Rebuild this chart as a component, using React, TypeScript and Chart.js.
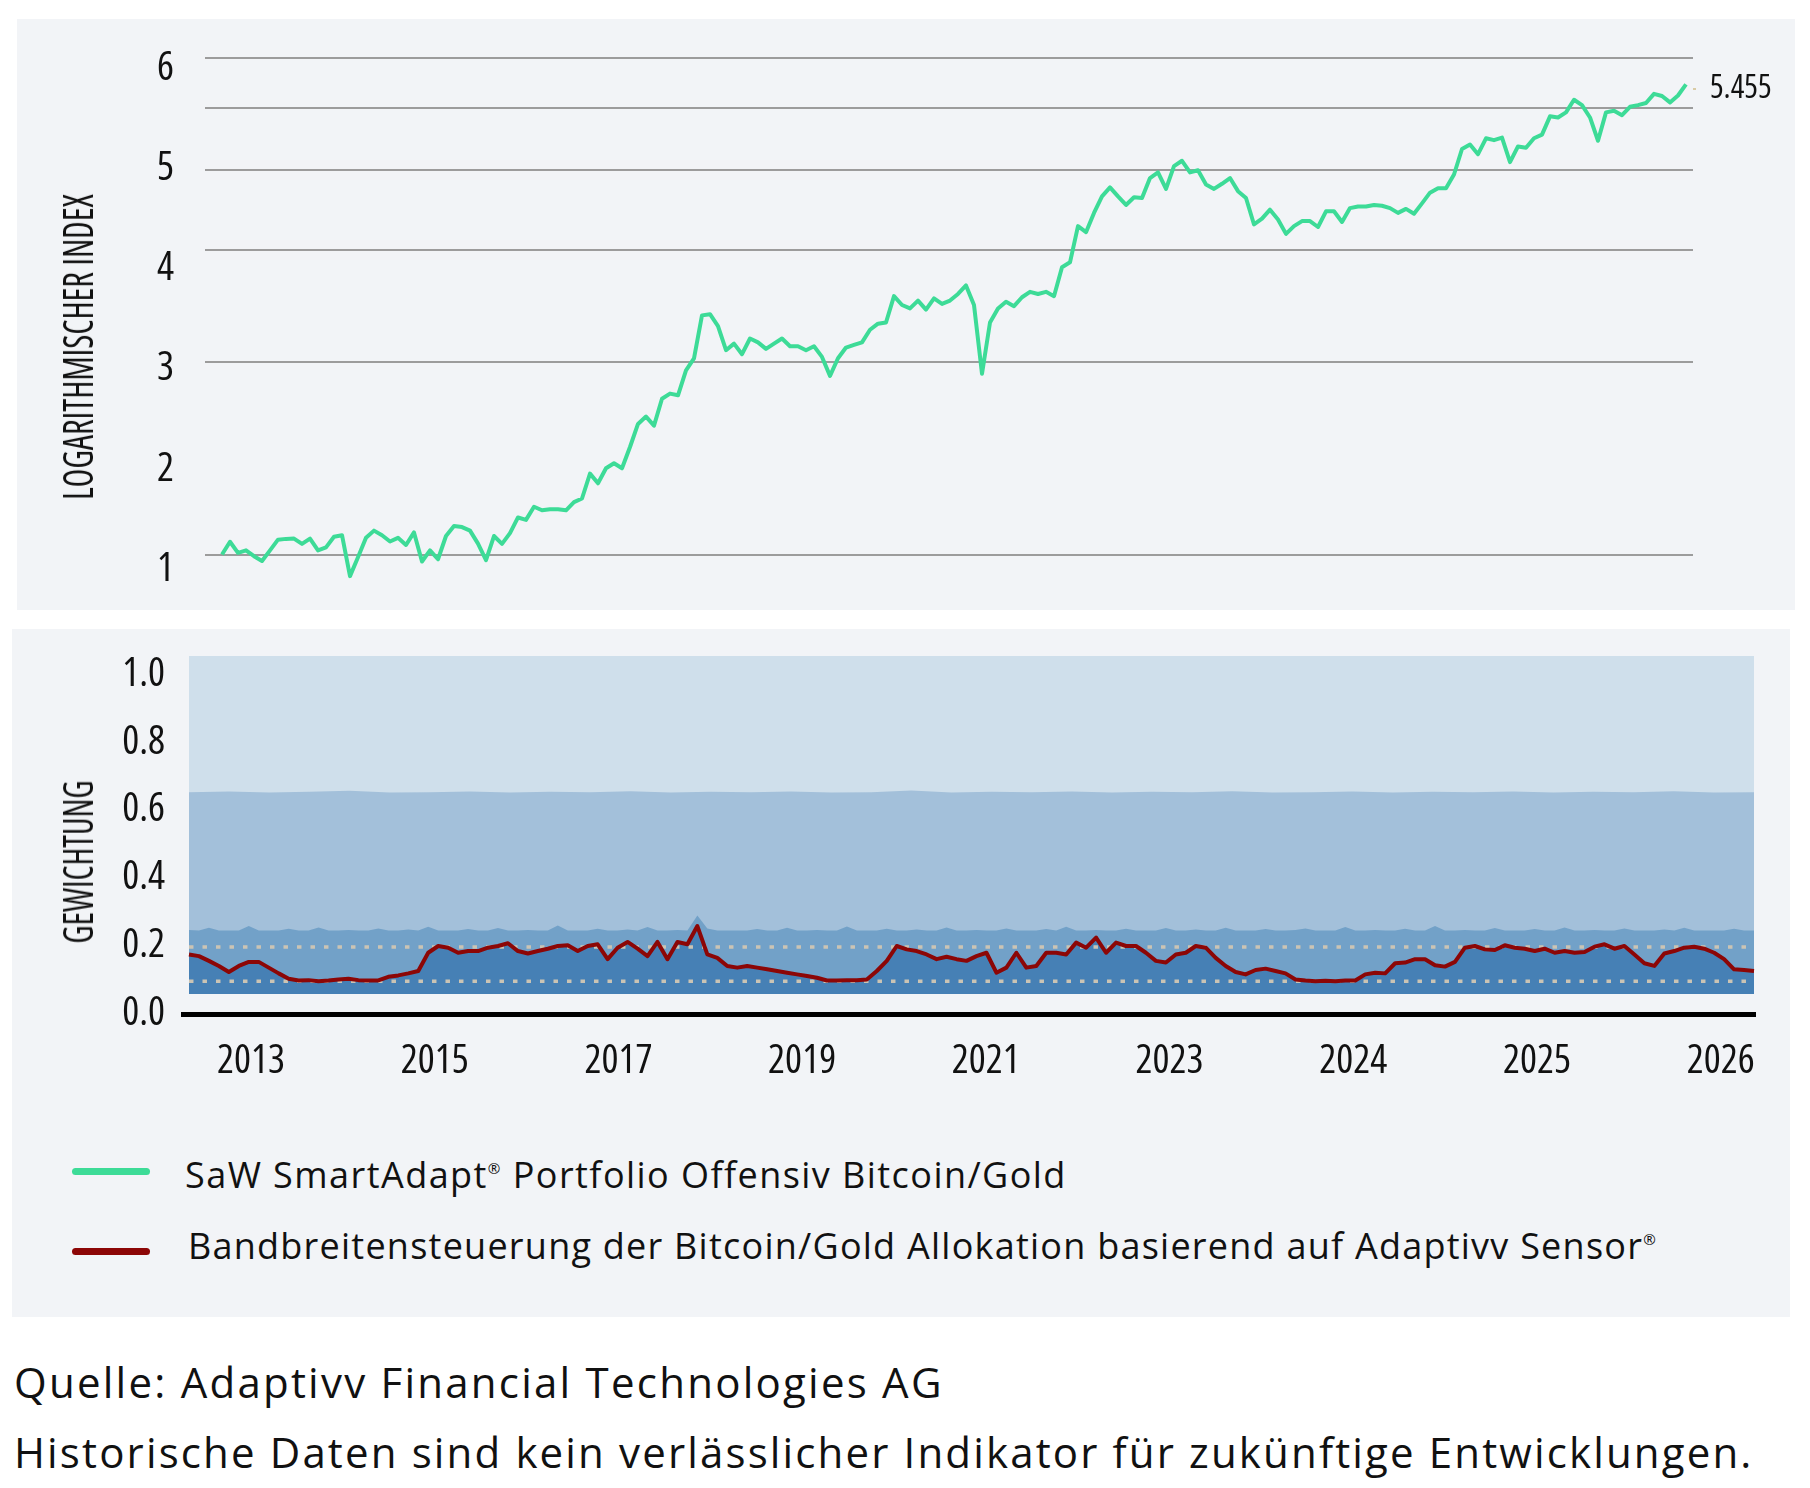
import React, { useEffect, useRef } from 'react';
import { Chart, registerables } from 'chart.js';

Chart.register(...registerables);

// ---------- data ----------
const INDEX_VALUES = [
  1.000, 1.047, 1.006, 1.015, 0.994, 0.977, 1.015, 1.055, 1.058, 1.059,
  1.039, 1.059, 1.015, 1.026, 1.066, 1.072, 0.925, 0.990, 1.062, 1.090,
  1.072, 1.048, 1.062, 1.035, 1.083, 0.975, 1.015, 0.983, 1.069, 1.108,
  1.104, 1.090, 1.040, 0.980, 1.069, 1.039, 1.080, 1.143, 1.133, 1.188,
  1.173, 1.177, 1.177, 1.173, 1.208, 1.224, 1.339, 1.293, 1.365, 1.390,
  1.365, 1.474, 1.602, 1.645, 1.592, 1.754, 1.787, 1.776, 1.944, 2.030,
  2.370, 2.380, 2.280, 2.090, 2.140, 2.060, 2.180, 2.150, 2.100, 2.140,
  2.180, 2.120, 2.120, 2.090, 2.120, 2.040, 1.905, 2.030, 2.110, 2.130,
  2.150, 2.250, 2.300, 2.310, 2.540, 2.460, 2.430, 2.500, 2.420, 2.520,
  2.470, 2.500, 2.560, 2.640, 2.460, 1.920, 2.310, 2.430, 2.490, 2.450,
  2.530, 2.580, 2.560, 2.580, 2.540, 2.820, 2.870, 3.270, 3.200, 3.430,
  3.640, 3.760, 3.640, 3.530, 3.630, 3.620, 3.890, 3.970, 3.740, 4.060,
  4.140, 3.970, 4.000, 3.800, 3.740, 3.810, 3.890, 3.710, 3.620, 3.290,
  3.360, 3.470, 3.350, 3.180, 3.270, 3.330, 3.330, 3.260, 3.450, 3.450,
  3.320, 3.490, 3.510, 3.510, 3.530, 3.520, 3.490, 3.430, 3.480, 3.420,
  3.550, 3.690, 3.750, 3.750, 3.940, 4.320, 4.390, 4.240, 4.490, 4.460,
  4.500, 4.120, 4.360, 4.340, 4.490, 4.550, 4.860, 4.840, 4.930, 5.160,
  5.060, 4.840, 4.450, 4.930, 4.960, 4.880, 5.030, 5.060, 5.100, 5.270,
  5.230, 5.110, 5.240, 5.455,
];
const INDEX_GRID = [1, 2, 3, 4, 5, 6];
const INDEX_TICK_LABELS = [1, 2, 3, 4, 5, 6];

const WEIGHT_BITCOIN = [
  0.117, 0.112, 0.098, 0.083, 0.065, 0.083, 0.095, 0.095, 0.078, 0.061,
  0.045, 0.040, 0.041, 0.038, 0.040, 0.043, 0.045, 0.041, 0.040, 0.040,
  0.051, 0.055, 0.061, 0.068, 0.122, 0.142, 0.137, 0.122, 0.127, 0.127,
  0.137, 0.142, 0.150, 0.127, 0.120, 0.127, 0.134, 0.142, 0.144, 0.127,
  0.142, 0.147, 0.103, 0.137, 0.154, 0.134, 0.112, 0.154, 0.103, 0.154,
  0.147, 0.201, 0.117, 0.107, 0.083, 0.078, 0.083, 0.078, 0.073, 0.068,
  0.063, 0.058, 0.053, 0.048, 0.040, 0.040, 0.041, 0.041, 0.043, 0.068,
  0.098, 0.142, 0.132, 0.127, 0.117, 0.103, 0.110, 0.103, 0.098, 0.112,
  0.122, 0.063, 0.078, 0.122, 0.078, 0.083, 0.122, 0.122, 0.117, 0.152,
  0.137, 0.167, 0.122, 0.152, 0.142, 0.142, 0.122, 0.098, 0.093, 0.117,
  0.122, 0.142, 0.137, 0.107, 0.083, 0.065, 0.058, 0.071, 0.075, 0.068,
  0.061, 0.043, 0.040, 0.038, 0.039, 0.038, 0.040, 0.040, 0.058, 0.063,
  0.061, 0.091, 0.093, 0.103, 0.103, 0.085, 0.081, 0.095, 0.137, 0.142,
  0.132, 0.130, 0.144, 0.137, 0.134, 0.127, 0.134, 0.122, 0.127, 0.122,
  0.124, 0.140, 0.147, 0.134, 0.142, 0.117, 0.091, 0.083, 0.120, 0.127,
  0.137, 0.140, 0.134, 0.122, 0.103, 0.073, 0.071, 0.068,
];
const BAND_LOW = [
  0.189, 0.188, 0.196, 0.188, 0.188, 0.188, 0.201, 0.188, 0.188, 0.188,
  0.193, 0.188, 0.188, 0.197, 0.188, 0.188, 0.189, 0.188, 0.188, 0.194,
  0.188, 0.188, 0.191, 0.188, 0.199, 0.188, 0.188, 0.188, 0.192, 0.188,
  0.188, 0.195, 0.188, 0.188, 0.189, 0.188, 0.188, 0.203, 0.188, 0.188,
  0.188, 0.193, 0.188, 0.188, 0.191, 0.188, 0.198, 0.188, 0.188, 0.189,
  0.188, 0.232, 0.194, 0.188, 0.188, 0.188, 0.188, 0.192, 0.188, 0.188,
  0.196, 0.188, 0.188, 0.189, 0.188, 0.188, 0.200, 0.188, 0.188, 0.188,
  0.193, 0.188, 0.188, 0.191, 0.188, 0.188, 0.197, 0.188, 0.188, 0.189,
  0.188, 0.188, 0.194, 0.188, 0.188, 0.188, 0.192, 0.188, 0.199, 0.188,
  0.188, 0.189, 0.188, 0.188, 0.193, 0.188, 0.188, 0.188, 0.195, 0.188,
  0.188, 0.191, 0.188, 0.188, 0.196, 0.188, 0.188, 0.188, 0.192, 0.188,
  0.188, 0.189, 0.194, 0.188, 0.188, 0.188, 0.198, 0.188, 0.188, 0.189,
  0.188, 0.188, 0.193, 0.188, 0.188, 0.201, 0.188, 0.188, 0.189, 0.188,
  0.188, 0.195, 0.188, 0.188, 0.188, 0.192, 0.188, 0.188, 0.197, 0.188,
  0.188, 0.189, 0.188, 0.188, 0.194, 0.188, 0.188, 0.188, 0.191, 0.188,
  0.196, 0.188, 0.188, 0.188, 0.188, 0.193, 0.188, 0.188,
];
const BAND_MID = [
  0.597, 0.599, 0.596, 0.598, 0.601, 0.596, 0.597, 0.599, 0.596, 0.598,
  0.597, 0.600, 0.596, 0.598, 0.597, 0.599, 0.596, 0.597, 0.602, 0.596,
  0.598, 0.597, 0.599, 0.596, 0.598, 0.597, 0.600, 0.596, 0.597, 0.599,
  0.596, 0.598, 0.597, 0.599, 0.596, 0.598, 0.597, 0.600, 0.596, 0.597,
];
const BAND_TOP = [1.0, 1.0];
const GUIDE_UPPER = 0.139;
const GUIDE_LOWER = 0.038;
const WEIGHT_TICK_LABELS = [0, 0.2, 0.4, 0.6, 0.8, 1.0];
const YEAR_LABELS = ['2013', '2015', '2017', '2019', '2021', '2023', '2024', '2025', '2026'];

// ---------- styles ----------
const PANEL = '#f2f4f7';
const GREEN = '#3ddb97';
const RED = '#8c0606';
const C_DARK = '#4680b5';
const C_MED = '#72a1c8';
const C_LIGHT = '#a3c0da';
const C_LIGHTEST = '#cfdfeb';
const C_GUIDE = '#cbc4b4';
const INK = '#111111';
const TICK_FAMILY = "'Open Sans'";
const TICK_WEIGHT = '400 condensed';
const TEXT_FONT = "'Open Sans', 'Noto Sans', sans-serif";

const X_TICK_START = 6.22;
const X_TICK_STEP = 18.43;

const noPad = (s: any) => {
  s.paddingTop = 0;
  s.paddingBottom = 0;
  s.paddingLeft = 0;
  s.paddingRight = 0;
};

const pts = (arr: number[], span: number) =>
  arr.map((v, i) => ({ x: arr.length > 1 ? (i * span) / (arr.length - 1) : 0, y: v }));

export default function App() {
  const topRef = useRef<HTMLCanvasElement>(null);
  const botRef = useRef<HTMLCanvasElement>(null);
  const title1 = useRef<HTMLDivElement>(null);
  const title2 = useRef<HTMLDivElement>(null);
  const leg1 = useRef<HTMLDivElement>(null);
  const leg2 = useRef<HTMLDivElement>(null);
  const foot1 = useRef<HTMLDivElement>(null);
  const foot2 = useRef<HTMLDivElement>(null);

  useEffect(() => {
    const fitScale = (el: HTMLDivElement | null, target: number) => {
      if (!el) return;
      const w = el.offsetWidth;
      if (w > 0) el.style.transform = `translate(-50%, -50%) rotate(-90deg) scaleX(${target / w})`;
    };
    const fitSpacing = (el: HTMLDivElement | null, target: number) => {
      if (!el) return;
      el.style.letterSpacing = '0px';
      const w = el.offsetWidth;
      const n = (el.textContent || '').length;
      if (n > 0) el.style.letterSpacing = `${(target - w) / n}px`;
    };
    fitScale(title1.current, 306);
    fitScale(title2.current, 163);
    fitSpacing(leg1.current, 882);
    fitSpacing(leg2.current, 1469);
    fitSpacing(foot1.current, 930);
    fitSpacing(foot2.current, 1740);

    const last = INDEX_VALUES[INDEX_VALUES.length - 1];
    const logMin = 0.8798;
    const logMax = 6.401;

    const top = new Chart(topRef.current as HTMLCanvasElement, {
      type: 'line',
      data: {
        datasets: [
          {
            data: INDEX_VALUES.map((v, i) => ({ x: i, y: v })),
            borderColor: GREEN,
            borderWidth: 4,
            pointRadius: 0,
            fill: false,
            tension: 0,
            borderJoinStyle: 'round',
          },
        ],
      },
      options: {
        animation: false,
        responsive: false,
        devicePixelRatio: 1,
        events: [],
        layout: { padding: { left: 0, right: 0, top: 21, bottom: 20 }, autoPadding: false },
        plugins: { legend: { display: false }, tooltip: { enabled: false } },
        scales: {
          x: { type: 'linear', display: false, min: -2.125, max: 183.875 },
          y: {
            type: 'logarithmic',
            position: 'left',
            min: logMin,
            max: logMax,
            afterBuildTicks: (s: any) => {
              s.ticks = INDEX_GRID.map((v) => ({ value: v }));
            },
            ticks: { display: false },
            grid: { color: '#9c9c9c', lineWidth: 2, drawTicks: false },
            border: { display: false },
            afterFit: (s: any) => {
              s.width = 0;
              noPad(s);
            },
          },
          yl: {
            type: 'linear',
            position: 'left',
            min: 0.7955,
            max: 6.2845,
            afterBuildTicks: (s: any) => {
              s.ticks = INDEX_TICK_LABELS.map((v) => ({ value: v }));
            },
            ticks: {
              padding: 31,
              color: INK,
              autoSkip: false,
              font: { family: TICK_FAMILY, weight: TICK_WEIGHT, size: 40 },
              callback: (v: any) => String(v),
            },
            grid: { display: false, drawTicks: false },
            border: { display: false },
            afterFit: (s: any) => {
              s.width = 188;
              noPad(s);
            },
          },
          yr: {
            type: 'logarithmic',
            position: 'right',
            min: 0.8949,
            max: 6.5105,
            afterBuildTicks: (s: any) => {
              s.ticks = [{ value: last }];
            },
            ticks: {
              padding: 14,
              color: INK,
              autoSkip: false,
              font: { family: TICK_FAMILY, weight: TICK_WEIGHT, size: 32 },
              callback: (v: any) => Number(v).toFixed(3),
            },
            grid: { drawOnChartArea: false, drawTicks: true, tickLength: 3, color: '#d9cba5', lineWidth: 2 },
            border: { display: false },
            afterFit: (s: any) => {
              s.width = 102;
              noPad(s);
            },
          },
        },
      },
    } as any);

    const span = WEIGHT_BITCOIN.length - 1;
    const bot = new Chart(botRef.current as HTMLCanvasElement, {
      type: 'line',
      data: {
        datasets: [
          { data: pts(WEIGHT_BITCOIN, span), borderColor: RED, borderWidth: 4, pointRadius: 0, fill: false, tension: 0, borderJoinStyle: 'round' },
          {
            data: [{ x: 0, y: GUIDE_UPPER }, { x: span, y: GUIDE_UPPER }],
            borderColor: C_GUIDE, borderWidth: 3.5, borderDash: [4.5, 9], pointRadius: 0, fill: false,
          },
          {
            data: [{ x: 0, y: GUIDE_LOWER }, { x: span, y: GUIDE_LOWER }],
            borderColor: C_GUIDE, borderWidth: 3.5, borderDash: [4.5, 9], pointRadius: 0, fill: false,
          },
          { data: pts(WEIGHT_BITCOIN, span), borderColor: 'rgba(0,0,0,0)', borderWidth: 0, backgroundColor: C_DARK, pointRadius: 0, fill: 'origin', tension: 0 },
          { data: pts(BAND_LOW, span), borderColor: 'rgba(0,0,0,0)', borderWidth: 0, backgroundColor: C_MED, pointRadius: 0, fill: 'origin' },
          { data: pts(BAND_MID, span), borderColor: 'rgba(0,0,0,0)', borderWidth: 0, backgroundColor: C_LIGHT, pointRadius: 0, fill: 'origin' },
          { data: pts(BAND_TOP, span), borderColor: 'rgba(0,0,0,0)', borderWidth: 0, backgroundColor: C_LIGHTEST, pointRadius: 0, fill: 'origin' },
        ],
      },
      options: {
        animation: false,
        responsive: false,
        devicePixelRatio: 1,
        events: [],
        layout: { padding: { left: 0, right: 35, top: 27, bottom: 15 }, autoPadding: false },
        plugins: { legend: { display: false }, tooltip: { enabled: false } },
        scales: {
          x: {
            type: 'linear',
            min: -0.6,
            max: 157.1,
            afterBuildTicks: (s: any) => {
              s.ticks = YEAR_LABELS.map((_, j) => ({ value: X_TICK_START + j * X_TICK_STEP }));
            },
            ticks: {
              padding: 24,
              color: INK,
              autoSkip: false,
              maxRotation: 0,
              minRotation: 0,
              font: { family: TICK_FAMILY, weight: TICK_WEIGHT, size: 40 },
              callback: (_v: any, i: number) => YEAR_LABELS[i],
            },
            grid: { display: false, drawTicks: false },
            border: { display: true, color: '#000000', width: 5 },
            afterFit: (s: any) => {
              s.height = 80;
              noPad(s);
            },
          },
          y: {
            type: 'linear',
            position: 'left',
            display: false,
            min: -0.0592,
            max: 1.0,
            afterFit: (s: any) => {
              s.width = 0;
              noPad(s);
            },
          },
          yl: {
            type: 'linear',
            position: 'left',
            min: -0.0015,
            max: 1.0545,
            afterBuildTicks: (s: any) => {
              s.ticks = WEIGHT_TICK_LABELS.map((v) => ({ value: v }));
            },
            ticks: {
              padding: 18,
              color: INK,
              autoSkip: false,
              font: { family: TICK_FAMILY, weight: TICK_WEIGHT, size: 40 },
              callback: (v: any) => Number(v).toFixed(1),
            },
            grid: { display: false, drawTicks: false },
            border: { display: false },
            afterFit: (s: any) => {
              s.width = 171;
              noPad(s);
            },
          },
        },
      },
    } as any);

    return () => {
      top.destroy();
      bot.destroy();
    };
  }, []);

  const abs = (o: React.CSSProperties): React.CSSProperties => ({ position: 'absolute', ...o });
  const rotTitle = (cx: number, cy: number, text: string, ref: React.RefObject<HTMLDivElement>) => (
    <div style={abs({ left: cx, top: cy, width: 0, height: 0 })}>
      <div
        ref={ref}
        style={{
          position: 'absolute',
          left: 0,
          top: 0,
          transform: 'translate(-50%, -50%) rotate(-90deg)',
          whiteSpace: 'nowrap',
          fontFamily: TICK_FAMILY,
          fontStretch: 'condensed',
          fontWeight: 400,
          fontSize: 42,
          lineHeight: 1,
          color: INK,
        }}
      >
        {text}
      </div>
    </div>
  );
  const sup = <span style={{ fontSize: '0.42em', verticalAlign: '0.95em' }}>®</span>;
  const textTop = (F: number, baseline: number) => baseline - 0.888 * F;
  const textStyle = (left: number, F: number, baseline: number): React.CSSProperties =>
    abs({ left, top: textTop(F, baseline), fontFamily: TEXT_FONT, fontWeight: 400, fontSize: F, lineHeight: 1, whiteSpace: 'nowrap', color: INK });

  return (
    <div style={abs({ left: 0, top: 0, width: 1810, height: 1488, background: '#ffffff', overflow: 'hidden' })}>
      <div style={abs({ left: 17, top: 19, width: 1778, height: 591, background: PANEL })} />
      <canvas ref={topRef} width={1778} height={591} style={abs({ left: 17, top: 19, width: 1778, height: 591 })} />
      {rotTitle(76.5, 346.5, 'LOGARITHMISCHER INDEX', title1)}

      <div style={abs({ left: 12, top: 629, width: 1778, height: 688, background: PANEL })} />
      <canvas ref={botRef} width={1778} height={480} style={abs({ left: 12, top: 629, width: 1778, height: 480 })} />
      {rotTitle(76.5, 861.5, 'GEWICHTUNG', title2)}

      <div style={abs({ left: 72, top: 1167.5, width: 78, height: 7, borderRadius: 3.5, background: GREEN })} />
      <div ref={leg1} style={textStyle(185, 36, 1189)}>
        SaW SmartAdapt{sup} Portfolio Offensiv Bitcoin/Gold
      </div>
      <div style={abs({ left: 72, top: 1247.5, width: 78, height: 7, borderRadius: 3.5, background: RED })} />
      <div ref={leg2} style={textStyle(188, 36, 1260)}>
        Bandbreitensteuerung der Bitcoin/Gold Allokation basierend auf Adaptivv Sensor{sup}
      </div>

      <div ref={foot1} style={textStyle(14, 42, 1398)}>
        Quelle: Adaptivv Financial Technologies AG
      </div>
      <div ref={foot2} style={textStyle(14, 42, 1468)}>
        Historische Daten sind kein verlässlicher Indikator für zukünftige Entwicklungen.
      </div>
    </div>
  );
}
